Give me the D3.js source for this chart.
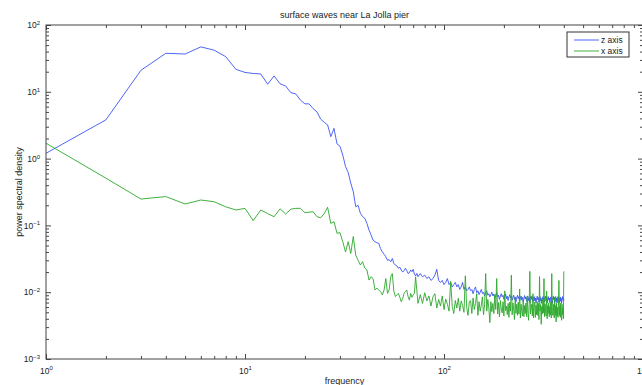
<!DOCTYPE html>
<html><head><meta charset="utf-8">
<script src="https://cdn.jsdelivr.net/npm/d3@7"></script>
<style>
body{margin:0;background:#fff;}
svg{display:block;font-family:"Liberation Sans",Arial,Helvetica,sans-serif;}
</style>
</head><body>
<svg id="chart" width="642" height="385"></svg>
<script>
// ---------------- DATA ----------------
const titleText = "surface waves near La Jolla pier";
const xLabelText = "frequency";
const yLabelText = "power spectral density";
const seriesNames = ["z axis", "x axis"];

// frequency grid: 1..74 every 1, then 76..400 every 2
const frequency = d3.range(1, 75).concat(d3.range(76, 401, 2));

const zAxisPSD = [
  // f = 1..10
  1.2, 3.8, 21, 37.7, 36.8, 47, 42, 33.6, 21.7, 19.5,
  // f = 11..20
  18.8, 18.5, 13.0, 17.3, 13.2, 12.2, 9.7, 9.3, 7.5, 6.6,
  // f = 21..30
  6.6, 5.6, 5.0, 3.9, 3.5, 3.2, 2.13, 2.84, 1.66, 1.53,
  // f = 31..40
  1.13, 0.76, 0.62, 0.43, 0.32, 0.19, 0.20, 0.152, 0.135, 0.128,
  // f = 41..50
  0.107, 0.085, 0.072, 0.060, 0.057, 0.055, 0.054, 0.045, 0.040, 0.037,
  // f = 51..60
  0.034, 0.030, 0.0307, 0.0286, 0.032, 0.027, 0.0255, 0.0247, 0.0228, 0.0236,
  // f = 61..70
  0.0215, 0.020, 0.021, 0.0228, 0.021, 0.0191, 0.0195, 0.0215, 0.0203, 0.022,
  // f = 71..74
  0.0187, 0.0175, 0.0191, 0.0171,
  // f = 76..94
  0.019, 0.017, 0.018, 0.016, 0.017, 0.015, 0.016, 0.018, 0.022, 0.015,
  // f = 96..114
  0.014, 0.015, 0.013, 0.014, 0.016, 0.013, 0.014, 0.012, 0.013, 0.014,
  // f = 116..134
  0.012, 0.013, 0.011, 0.012, 0.014, 0.011, 0.012, 0.0105, 0.011, 0.012,
  // f = 136..154
  0.0105, 0.011, 0.0095, 0.011, 0.012, 0.0098, 0.0105, 0.0092, 0.010, 0.011,
  // f = 156..174
  0.0095, 0.010, 0.0088, 0.0098, 0.0105, 0.009, 0.0095, 0.0085, 0.0092, 0.010,
  // f = 176..194
  0.0088, 0.0094, 0.0082, 0.009, 0.0098, 0.0085, 0.009, 0.0078, 0.0088, 0.0095,
  // f = 196..214
  0.0085, 0.009, 0.0078, 0.0086, 0.0094, 0.008, 0.0087, 0.0075, 0.0085, 0.0092,
  // f = 216..234
  0.0082, 0.0088, 0.0076, 0.0084, 0.009, 0.0078, 0.0085, 0.0072, 0.0083, 0.009,
  // f = 236..254
  0.008, 0.0086, 0.0074, 0.0082, 0.0088, 0.0076, 0.0084, 0.0071, 0.008, 0.0089,
  // f = 256..274
  0.0079, 0.0085, 0.0073, 0.0081, 0.0087, 0.0075, 0.0083, 0.007, 0.0079, 0.0088,
  // f = 276..294
  0.0078, 0.0084, 0.0072, 0.008, 0.0086, 0.0074, 0.0082, 0.0069, 0.0079, 0.0087,
  // f = 296..314
  0.0077, 0.0083, 0.0071, 0.0079, 0.0086, 0.0074, 0.0081, 0.0068, 0.0078, 0.0086,
  // f = 316..334
  0.0077, 0.0083, 0.0072, 0.008, 0.0087, 0.0073, 0.0082, 0.0069, 0.0079, 0.0086,
  // f = 336..354
  0.0076, 0.0082, 0.007, 0.0079, 0.0085, 0.0073, 0.0081, 0.0068, 0.0078, 0.0087,
  // f = 356..374
  0.0077, 0.0083, 0.0071, 0.008, 0.0086, 0.0072, 0.0082, 0.0069, 0.0079, 0.0086,
  // f = 376..394
  0.0076, 0.0083, 0.007, 0.0079, 0.0085, 0.0073, 0.0081, 0.0068, 0.0078, 0.0086,
  // f = 396..400
  0.0077, 0.0082, 0.0075
];

const xAxisPSD = [
  // f = 1..10
  1.7, 0.51, 0.248, 0.27, 0.209, 0.24, 0.226, 0.19, 0.17, 0.18,
  // f = 11..20
  0.118, 0.17, 0.15, 0.135, 0.177, 0.148, 0.175, 0.18, 0.18, 0.155,
  // f = 21..30
  0.158, 0.16, 0.135, 0.13, 0.15, 0.187, 0.107, 0.114, 0.076, 0.078,
  // f = 31..40
  0.057, 0.040, 0.057, 0.038, 0.068, 0.036, 0.030, 0.0255, 0.0286, 0.023,
  // f = 41..50
  0.0215, 0.0152, 0.017, 0.016, 0.0108, 0.0115, 0.0108, 0.0102, 0.0091, 0.0108,
  // f = 51..60
  0.016, 0.0096, 0.0108, 0.017, 0.019, 0.0102, 0.0086, 0.0091, 0.0096, 0.0084,
  // f = 61..70
  0.0072, 0.008, 0.0096, 0.0102, 0.0108, 0.0086, 0.0076, 0.0096, 0.0084, 0.0091,
  // f = 71..74
  0.0096, 0.017, 0.0108, 0.0068,
  // f = 76..94
  0.0092, 0.0068, 0.0098, 0.0074, 0.0088, 0.0062, 0.0085, 0.0095, 0.0058, 0.0078,
  // f = 96..114
  0.0062, 0.0088, 0.0055, 0.0079, 0.0066, 0.0052, 0.0145, 0.0061, 0.0048, 0.0075,
  // f = 116..134
  0.0058, 0.0081, 0.0052, 0.0074, 0.0063, 0.005, 0.0176, 0.0059, 0.0045, 0.0072,
  // f = 136..154
  0.0075, 0.0048, 0.0082, 0.0055, 0.0068, 0.0095, 0.0045, 0.0072, 0.0052, 0.0064,
  // f = 156..174
  0.0085, 0.0046, 0.0066, 0.019, 0.0052, 0.0078, 0.0058, 0.0035, 0.0072, 0.0051,
  // f = 176..194
  0.0068, 0.0048, 0.0092, 0.0055, 0.016, 0.0047, 0.0070, 0.0043, 0.0075, 0.0056,
  // f = 196..214
  0.0049, 0.0072, 0.0044, 0.0105, 0.0053, 0.0062, 0.0046, 0.0068, 0.0042, 0.0071,
  // f = 216..234
  0.0052, 0.018, 0.0046, 0.0069, 0.0055, 0.0039, 0.0082, 0.0048, 0.0066, 0.0045,
  // f = 236..254
  0.0071, 0.0047, 0.0112, 0.0041, 0.0066, 0.0052, 0.0044, 0.0074, 0.0043, 0.0063,
  // f = 256..274
  0.0048, 0.0069, 0.0043, 0.0088, 0.005, 0.0038, 0.0065, 0.0205, 0.0047, 0.0058,
  // f = 276..294
  0.0066, 0.0044, 0.0095, 0.0041, 0.0062, 0.0071, 0.0042, 0.0064, 0.0046, 0.0072,
  // f = 296..314
  0.0045, 0.0068, 0.0039, 0.0172, 0.0052, 0.0065, 0.0033, 0.0061, 0.0047, 0.0078,
  // f = 316..334
  0.0049, 0.016, 0.0043, 0.0067, 0.0051, 0.0044, 0.0104, 0.004, 0.0063, 0.0048,
  // f = 336..354
  0.0069, 0.0043, 0.0061, 0.0046, 0.0072, 0.0041, 0.019, 0.0049, 0.0045, 0.0066,
  // f = 356..374
  0.0047, 0.0041, 0.0085, 0.0045, 0.0063, 0.0036, 0.0068, 0.0044, 0.0059, 0.0042,
  // f = 376..394
  0.0064, 0.015, 0.0045, 0.0061, 0.0042, 0.0069, 0.0048, 0.0038, 0.0066, 0.0046,
  // f = 396..400
  0.0058, 0.004, 0.0205
];

const xMajorTicks = [1, 10, 100, 1000];
const xTickExponents = ["0", "1", "2", "3"];
const yMajorTicks = [1e-3, 1e-2, 1e-1, 1, 10, 100];
const yTickExponents = ["\u22123", "\u22122", "\u22121", "0", "1", "2"];
const seriesColors = ["#3a55f5", "#2aa82a"];

// ---------------- CHART ----------------
const svg = d3.select("#chart");
const L = 46, R = 643, T = 25, B = 359;
const x = d3.scaleLog().domain([1, 1000]).range([L, R]);
const y = d3.scaleLog().domain([1e-3, 1e2]).range([B, T]);

function minorTicks(domain) {
  const out = [];
  const lo = Math.round(Math.log10(domain[0])), hi = Math.round(Math.log10(domain[1]));
  for (let e = lo; e < hi; e++) for (let k = 2; k <= 9; k++) out.push(k * Math.pow(10, e));
  return out;
}
const xMinor = minorTicks(x.domain());
const yMinor = minorTicks(y.domain());

const axisColor = "#444";
function styleAxis(g) {
  g.select(".domain").remove();
  g.selectAll(".tick line").attr("stroke", axisColor).attr("stroke-width", 1);
  g.selectAll(".tick text").attr("fill", "#222").attr("font-size", "8.5px");
}
function supLabels(g, exps) {
  g.selectAll(".tick text").each(function (d, i) {
    const t = d3.select(this);
    t.text(null);
    t.append("tspan").text("10");
    t.append("tspan").attr("dy", "-0.55em").attr("font-size", "6px").text(exps[i]);
  });
}

// data lines (clipped)
svg.append("clipPath").attr("id", "clip").append("rect")
  .attr("x", L).attr("y", T).attr("width", R - L).attr("height", B - T);

const line = d3.line().x((d, i) => x(frequency[i])).y(d => y(d));
const plot = svg.append("g").attr("clip-path", "url(#clip)");
[zAxisPSD, xAxisPSD].forEach((s, k) => {
  plot.append("path").datum(s).attr("d", line)
    .attr("fill", "none").attr("stroke", seriesColors[k])
    .attr("stroke-width", 0.9).attr("stroke-linejoin", "round");
});

// bottom axis
const gB = svg.append("g").attr("transform", `translate(0,${B})`)
  .call(d3.axisBottom(x).tickValues(xMajorTicks).tickSize(-5).tickPadding(8.5));
styleAxis(gB); supLabels(gB, xTickExponents);
svg.append("g").attr("transform", `translate(0,${B})`)
  .call(d3.axisBottom(x).tickValues(xMinor).tickSize(-3).tickFormat(""))
  .call(styleAxis);
// top axis
svg.append("g").attr("transform", `translate(0,${T})`)
  .call(d3.axisTop(x).tickValues(xMajorTicks).tickSize(-5).tickFormat("")).call(styleAxis);
svg.append("g").attr("transform", `translate(0,${T})`)
  .call(d3.axisTop(x).tickValues(xMinor).tickSize(-3).tickFormat("")).call(styleAxis);
// left axis
const gL = svg.append("g").attr("transform", `translate(${L},0)`)
  .call(d3.axisLeft(y).tickValues(yMajorTicks).tickSize(-5).tickPadding(6));
styleAxis(gL); supLabels(gL, yTickExponents);
svg.append("g").attr("transform", `translate(${L},0)`)
  .call(d3.axisLeft(y).tickValues(yMinor).tickSize(-3).tickFormat("")).call(styleAxis);
// right axis
svg.append("g").attr("transform", `translate(${R},0)`)
  .call(d3.axisRight(y).tickValues(yMajorTicks).tickSize(-5).tickFormat("")).call(styleAxis);
svg.append("g").attr("transform", `translate(${R},0)`)
  .call(d3.axisRight(y).tickValues(yMinor).tickSize(-3).tickFormat("")).call(styleAxis);

// frame
svg.append("rect").attr("x", L).attr("y", T).attr("width", R - L).attr("height", B - T)
  .attr("fill", "none").attr("stroke", axisColor).attr("stroke-width", 1);

// title & labels
svg.append("text").attr("x", (L + R) / 2).attr("y", 18).attr("text-anchor", "middle")
  .attr("font-size", "9px").attr("fill", "#222").text(titleText);
svg.append("text").attr("x", (L + R) / 2).attr("y", 384).attr("text-anchor", "middle")
  .attr("font-size", "9px").attr("fill", "#222").text(xLabelText);
svg.append("text").attr("transform", `translate(22,${(T + B) / 2}) rotate(-90)`)
  .attr("text-anchor", "middle").attr("font-size", "9px").attr("fill", "#222").text(yLabelText);

// legend
const lg = svg.append("g");
lg.append("rect").attr("x", 567).attr("y", 32).attr("width", 62).attr("height", 25)
  .attr("fill", "#fff").attr("stroke", "#333").attr("stroke-width", 1);
seriesNames.forEach((name, k) => {
  const yy = 40 + k * 11;
  lg.append("line").attr("x1", 574).attr("x2", 599).attr("y1", yy).attr("y2", yy)
    .attr("stroke", seriesColors[k]).attr("stroke-width", 0.9);
  lg.append("text").attr("x", 601).attr("y", yy + 3).attr("font-size", "8.5px")
    .attr("fill", "#222").text(name);
});
</script>
</body></html>
